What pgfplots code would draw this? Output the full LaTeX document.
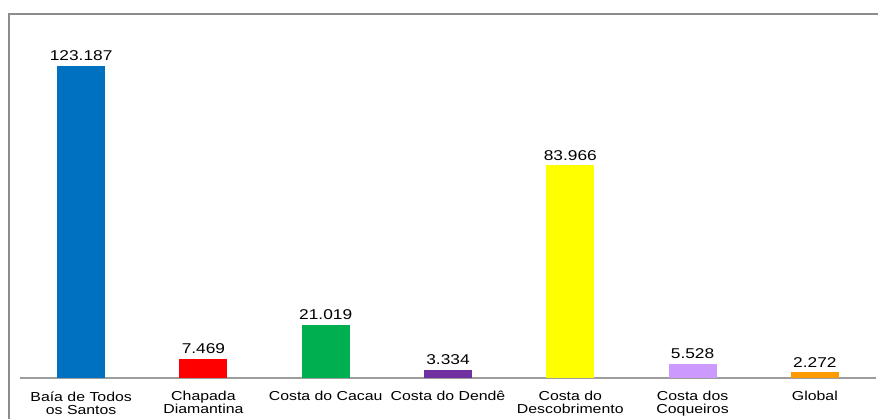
\documentclass[border=0pt]{standalone}
\usepackage{fontspec}
\setmainfont[FakeStretch=1.22]{Liberation Sans}
\usepackage{pgfplots}
\pgfplotsset{compat=1.18}
\definecolor{cBlue}{HTML}{0070C0}
\definecolor{cRed}{HTML}{FF0000}
\definecolor{cGreen}{HTML}{00B050}
\definecolor{cPurple}{HTML}{7030A0}
\definecolor{cYellow}{HTML}{FFFF00}
\definecolor{cLav}{HTML}{CC99FF}
\definecolor{cOrange}{HTML}{FF9900}
\definecolor{cFrame}{HTML}{8C8C8C}
\begin{document}
\begin{tikzpicture}
\useasboundingbox (0,0) rectangle (878pt,419pt);
\draw[cFrame, line width=1.6pt] (9pt,0pt) -- (9pt,405pt) -- (880pt,405pt);
\begin{axis}[
  at={(20pt,41pt)}, anchor=south west,
  scale only axis, width=856pt, height=342pt,
  xmin=-0.5, xmax=6.5, ymin=0, ymax=135000,
  axis y line=none, axis x line=bottom,
  x axis line style={-, cFrame!85, line width=1.4pt},
  major tick length=0pt,
  ybar, bar width=48pt, bar shift=0pt,
  xtick={0,1,2,3,4,5,6},
  xticklabels={{Baía de Todos\\os Santos},{Chapada\\Diamantina},{Costa do Cacau},{Costa do Dendê},{Costa do\\Descobrimento},{Costa dos\\Coqueiros},{Global}},
  xticklabel style={align=center, font=\fontsize{13}{13}\selectfont, yshift=-10pt},
  /pgf/number format/.cd, fixed, precision=0, 1000 sep={.}, assume math mode=true,
  /pgfplots/.cd,
  nodes near coords,
  nodes near coords style={font=\fontsize{14.2}{15}\selectfont, yshift=1.5pt},
  every axis plot/.append style={draw=none},
]
\addplot[fill=cBlue] coordinates {(0,123187)};
\addplot[fill=cRed] coordinates {(1,7469)};
\addplot[fill=cGreen] coordinates {(2,21019)};
\addplot[fill=cPurple] coordinates {(3,3334)};
\addplot[fill=cYellow] coordinates {(4,83966)};
\addplot[fill=cLav] coordinates {(5,5528)};
\addplot[fill=cOrange] coordinates {(6,2272)};
\end{axis}
\end{tikzpicture}
\end{document}
